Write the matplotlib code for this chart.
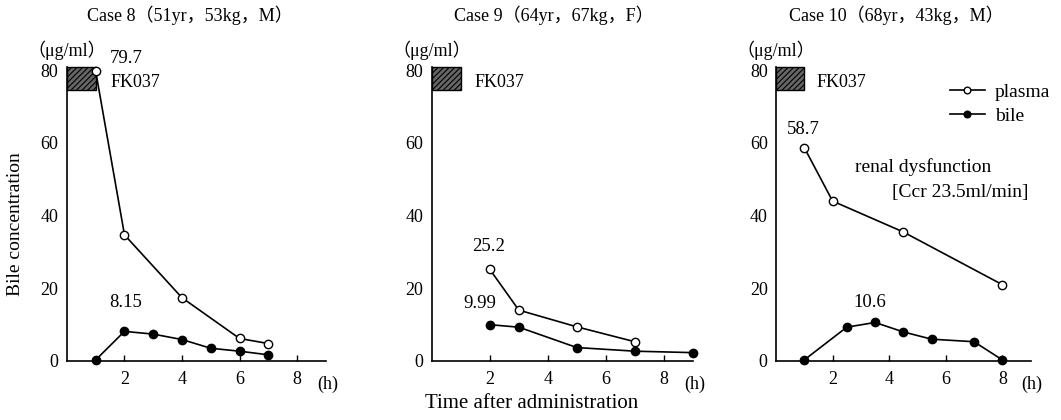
import matplotlib
matplotlib.use("Agg")
import matplotlib.pyplot as plt
from matplotlib.patches import Rectangle

plt.rcParams['font.family'] = ['Liberation Serif', 'Noto Sans CJK JP', 'DejaVu Serif']
plt.rcParams['hatch.linewidth'] = 0.8

titles = ["Case 8（51yr，53kg，M）", "Case 9（64yr，67kg，F）", "Case 10（68yr，43kg，M）"]

plasma_t8 = [1, 2, 4, 6, 7]
plasma_c8 = [79.7, 34.7, 17.4, 6.2, 4.8]
bile_t8 = [1, 2, 3, 4, 5, 6, 7]
bile_c8 = [0.3, 8.15, 7.4, 5.9, 3.5, 2.7, 1.7]

plasma_t9 = [2, 3, 5, 7]
plasma_c9 = [25.2, 14.0, 9.4, 5.3]
bile_t9 = [2, 3, 5, 7, 9]
bile_c9 = [9.99, 9.3, 3.7, 2.7, 2.3]

plasma_t10 = [1, 2, 4.5, 8]
plasma_c10 = [58.7, 44.0, 35.5, 21.0]
bile_t10 = [1, 2.5, 3.5, 4.5, 5.5, 7, 8]
bile_c10 = [0.3, 9.3, 10.6, 8.0, 6.0, 5.3, 0.3]

x_ticks = [2, 4, 6, 8]
y_ticks = [0, 20, 40, 60, 80]

plasma_t = [plasma_t8, plasma_t9, plasma_t10]
plasma_c = [plasma_c8, plasma_c9, plasma_c10]
bile_t = [bile_t8, bile_t9, bile_t10]
bile_c = [bile_c8, bile_c9, bile_c10]

# peak annotations: (x, y, text)
annots = [
    [(1.5, 83.3, "79.7"), (1.47, 16.0, "8.15")],
    [(1.4, 31.4, "25.2"), (1.08, 15.7, "9.99")],
    [(0.39, 63.8, "58.7"), (2.75, 16.0, "10.6")],
]
fk_x = [1.5, 1.46, 1.44]

fig = plt.figure(figsize=(10.61, 4.2), dpi=100)
lefts = [0.0631, 0.407, 0.7314]
widths = [0.244, 0.246, 0.240]
title_x = [190 / 1061, 554 / 1061, 896 / 1061]
FS_TICK = 13
FS = 14

axes = []
for i in range(3):
    ax = fig.add_axes([lefts[i], 0.1405, widths[i], 0.7095])
    axes.append(ax)
    ax.set_xlim(0, 9)
    ax.set_ylim(0, 82)
    for s in ['top', 'right']:
        ax.spines[s].set_visible(False)
    ax.spines['left'].set_bounds(0, 81)
    ax.spines['left'].set_linewidth(1.2)
    ax.spines['bottom'].set_linewidth(1.2)
    ax.set_xticks(x_ticks)
    ax.set_yticks(y_ticks)
    ax.tick_params(axis='x', direction='in', length=4, width=1, labelsize=FS_TICK, pad=7)
    ax.tick_params(axis='y', length=0, labelsize=FS_TICK, pad=6)
    ax.add_patch(Rectangle((0, 74.5), 1, 6.5, facecolor='#666666', edgecolor='black',
                           hatch='//////', linewidth=1.0, zorder=2))
    ax.plot(plasma_t[i], plasma_c[i], '-o', color='black', mfc='white', mec='black',
            ms=6, lw=1.2, mew=1.0, zorder=4, clip_on=False, label='plasma')
    ax.plot(bile_t[i], bile_c[i], '-o', color='black', mfc='black', mec='black',
            ms=6, lw=1.2, zorder=4, clip_on=False, label='bile')
    for (x, y, t) in annots[i]:
        ax.text(x, y, t, fontsize=13.5, ha='left', va='center', clip_on=False)
    ax.text(fk_x[i], 76.7, "FK037", fontsize=FS_TICK, ha='left', va='center')
    ax.text(0, 85.5, "（μg/ml）", fontsize=FS_TICK, ha='center', va='center', clip_on=False)
    ax.text(9.05, -6.3, "(h)", fontsize=FS_TICK, ha='center', va='center', clip_on=False)
    fig.text(title_x[i], 1 - 15 / 420, titles[i], fontsize=FS_TICK, ha='center', va='center')

axes[0].set_ylabel("Bile concentration", fontsize=FS)
axes[0].yaxis.set_label_coords(-0.165, 0.46)
axes[2].text(2.8, 53.4, "renal dysfunction", fontsize=FS, ha='left', va='center')
axes[2].text(4.1, 46.5, "[Ccr 23.5ml/min]", fontsize=FS, ha='left', va='center')
axes[2].legend(loc='upper right', bbox_to_anchor=(1.145, 0.99), frameon=False, fontsize=FS,
               handlelength=1.8, handletextpad=0.5, labelspacing=0.3, markerscale=0.8)
fig.text(532 / 1061, 17 / 420, "Time after administration", fontsize=15, ha='center', va='center')

fig.savefig("out.png", dpi=100)
